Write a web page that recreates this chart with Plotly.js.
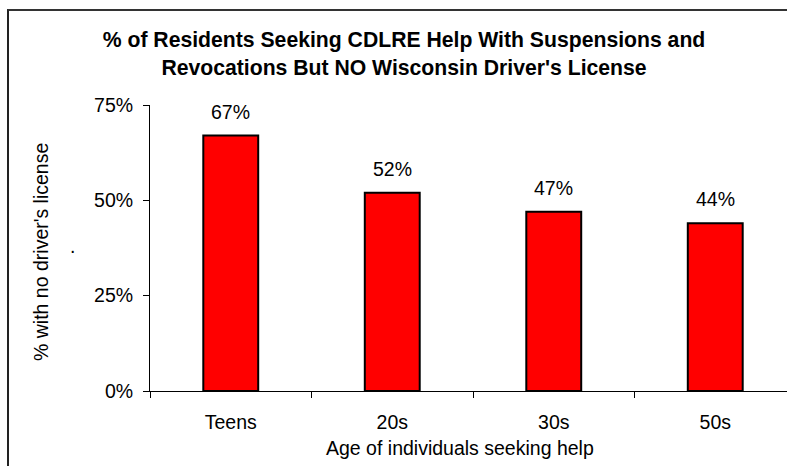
<!DOCTYPE html>
<html>
<head>
<meta charset="utf-8">
<script src="https://cdn.plot.ly/plotly-3.0.1.min.js"></script>
<style>
html,body{margin:0;padding:0;background:#fff;overflow:hidden;width:787px;height:466px;}
#frame{position:absolute;left:7px;top:9px;width:900px;height:600px;border-left:2px solid #222;border-top:2px solid #333;}
#chart{position:absolute;left:0;top:0;width:810px;height:466px;}
</style>
</head>
<body>
<div id="frame"></div>
<div id="chart"></div>
<script>
var categories = ["Teens", "20s", "30s", "50s"];
var values = [67, 52, 47, 44];
var valueLabels = ["67%", "52%", "47%", "44%"];
var yTickVals = [0, 25, 50, 75];
var yTickText = ["0%", "25%", "50%", "75%"];

var FONT = "Arial, 'Liberation Sans', sans-serif";
var FS = 19.5;
var W = 810, H = 466, ML = 150, MR = 14, MT = 105, MB = 75;
var PW = W - ML - MR, PH = H - MT - MB;
function px2x(px){ return (px - ML) / PW; }
function px2y(py){ return 1 - (py - MT) / PH; }

var trace = {
  type: "bar",
  x: categories,
  y: values,
  width: 0.34,
  marker: {color: "#FF0000", line: {color: "#000000", width: 2}},
  hoverinfo: "skip"
};

var annotations = categories.map(function(c, i){
  return {x: c, y: values[i], xref: "x", yref: "y", text: valueLabels[i],
    showarrow: false, yanchor: "bottom", yshift: 11,
    font: {family: FONT, size: FS, color: "#000"}};
});
annotations.push({xref: "paper", yref: "paper", x: px2x(41), y: px2y(252),
  text: "% with no driver's license", textangle: -90, showarrow: false,
  xanchor: "center", yanchor: "middle", font: {family: FONT, size: FS, color: "#000"}});
annotations.push({xref: "paper", yref: "paper", x: px2x(72), y: px2y(246),
  text: ".", showarrow: false,
  xanchor: "center", yanchor: "middle", font: {family: FONT, size: FS, color: "#000"}});
annotations.push({xref: "paper", yref: "paper", x: px2x(460), y: px2y(448),
  text: "Age of individuals seeking help", showarrow: false,
  xanchor: "center", yanchor: "middle", font: {family: FONT, size: FS, color: "#000"}});

var layout = {
  width: W, height: H,
  margin: {l: ML, r: MR, t: MT, b: MB, pad: 0},
  paper_bgcolor: "rgba(0,0,0,0)",
  plot_bgcolor: "rgba(0,0,0,0)",
  showlegend: false,
  title: {
    text: "<b>% of Residents Seeking CDLRE Help With Suspensions and<br>Revocations But NO Wisconsin Driver's License</b>",
    xref: "container", yref: "container",
    x: 404 / W, xanchor: "center",
    y: 1 - 47 / H, yanchor: "middle",
    font: {family: FONT, size: 21.2, color: "#000"}
  },
  xaxis: {
    type: "category",
    range: [-0.5, 3.5],
    showline: true, linecolor: "#000", linewidth: 1,
    ticks: "outside", tickson: "boundaries", ticklen: 6, tickcolor: "#000", tickwidth: 1,
    showgrid: false, zeroline: false,
    tickfont: {family: FONT, size: FS, color: "#000"},
    ticklabelstandoff: 14,
    fixedrange: true
  },
  yaxis: {
    range: [0, 75],
    tickvals: yTickVals, ticktext: yTickText,
    showline: true, linecolor: "#000", linewidth: 1,
    ticks: "outside", ticklen: 6, tickcolor: "#000", tickwidth: 1,
    showgrid: false, zeroline: false,
    tickfont: {family: FONT, size: FS, color: "#000"},
    ticklabelstandoff: 6,
    fixedrange: true
  },
  annotations: annotations
};

Plotly.newPlot("chart", [trace], layout, {staticPlot: true, displayModeBar: false});
</script>
</body>
</html>
